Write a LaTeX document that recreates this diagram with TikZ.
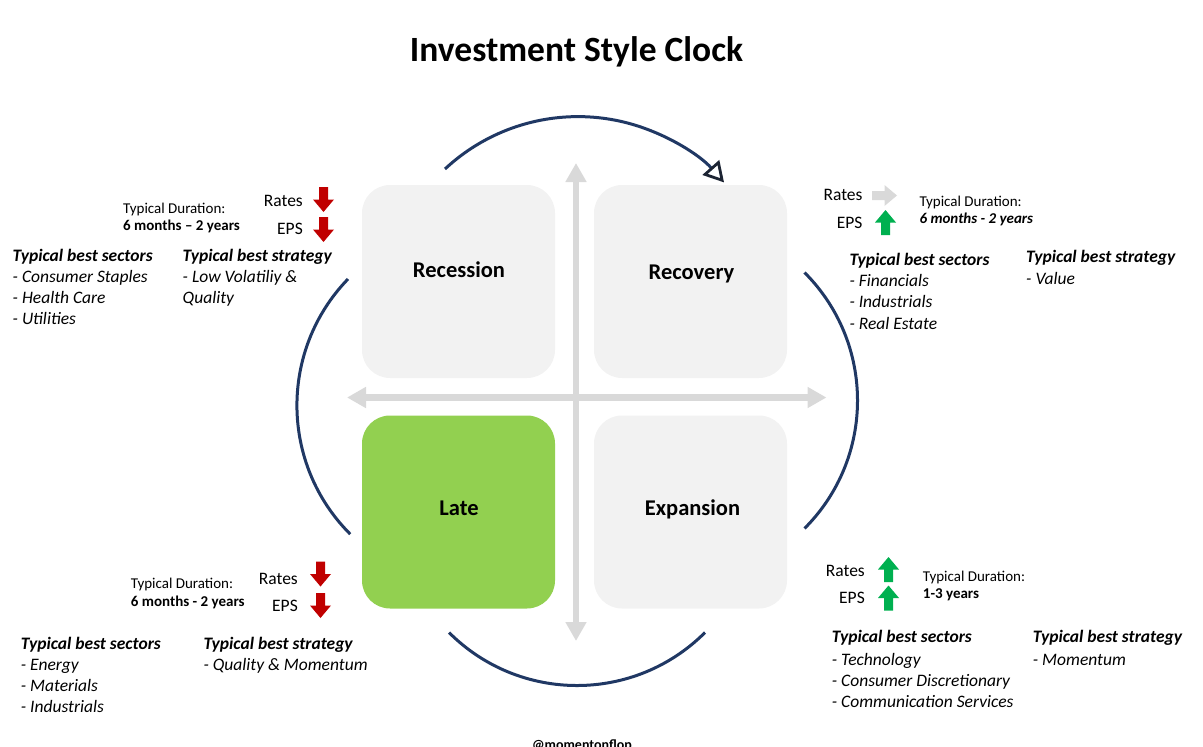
\documentclass[tikz,border=0pt]{standalone}
\usepackage{fontspec}
\setmainfont{Carlito}
\usetikzlibrary{arrows.meta}
\definecolor{navy}{HTML}{203864}
\definecolor{headdark}{HTML}{1C2433}
\definecolor{boxgray}{HTML}{F2F2F2}
\definecolor{axisgray}{HTML}{D9D9D9}
\definecolor{latebox}{HTML}{92D050}
\definecolor{arrred}{HTML}{C00000}
\definecolor{arrgreen}{HTML}{00B050}
\definecolor{arrgray}{HTML}{D9D9D9}
\tikzset{
  blockarrow/.pic={\fill (-4.5,-12.5) -- (4.5,-12.5) -- (4.5,0) -- (10.5,0) -- (0,12.5) -- (-10.5,0) -- (-4.5,0) -- cycle;},
}
\begin{document}
\begin{tikzpicture}[x=1pt,y=-1pt,
  txt/.style={anchor=base west, inner sep=0pt, font=\fontsize{17.5}{21}\selectfont\itshape},
  hd/.style={anchor=base west, inner sep=0pt, font=\fontsize{17.5}{21}\selectfont\bfseries\itshape},
  dur/.style={anchor=base west, inner sep=0pt, font=\fontsize{15}{18}\selectfont},
  durb/.style={anchor=base west, inner sep=0pt, font=\fontsize{15}{18}\selectfont\bfseries},
  lab/.style={anchor=base east, inner sep=0pt, font=\fontsize{17.5}{21}\selectfont},
  quad/.style={fill=boxgray, rounded corners=28pt, minimum width=193pt, minimum height=193pt, inner sep=0pt},
  boxlab/.style={anchor=base, inner sep=0pt, font=\fontsize{22.5}{27}\selectfont\bfseries},
  axis/.style={draw=axisgray, line width=6.5pt, {Triangle[length=19pt,width=20pt]}-{Triangle[length=19pt,width=20pt]}},
  cyc/.style={draw=navy, line width=3pt},
]
\useasboundingbox (0,0) rectangle (1203,747);

% title
\node[anchor=base, inner sep=0pt, font=\fontsize{35.5}{42}\selectfont\bfseries] (title) at (576.5,61.5) {Investment Style Clock};

% axes
\coordinate (vtop) at (576,163);
\coordinate (vbot) at (576,641);
\coordinate (hl) at (347,397.5);
\coordinate (hr) at (826.5,397.5);
\draw[axis] (vbot) -- (vtop);
\draw[axis] (hl) -- (hr);

% quadrants
\node[quad] (recession) at (458.5,281.5) {};
\node[quad] (recovery) at (690.5,281.5) {};
\node[quad, fill=latebox] (late) at (458.5,512) {};
\node[quad] (expansion) at (690.5,512) {};
\node[boxlab] (recessionlab) at (459,277.5) {Recession};
\node[boxlab] (recoverylab) at (691.5,279.5) {Recovery};
\node[boxlab] (latelab) at (459,515.5) {Late};
\node[boxlab] (expansionlab) at (692.5,515.5) {Expansion};

% cycle arcs
\draw[cyc, -{Triangle[open,length=20pt,width=22pt,line width=2.8pt,color=headdark]}] (445,169) arc[start angle=-133, end angle=-41.5, radius=195];
\draw[cyc] (348,279) arc[start angle=224, end angle=135, radius=182];
\draw[cyc] (804.5,272.5) arc[start angle=-45, end angle=45, radius=181];
\draw[cyc] (705,632.5) arc[start angle=45, end angle=135, radius=181];

% ---------- Recession (top-left)
\node[lab] (tlrates) at (303,206.7) {Rates};
\node[lab] (tleps) at (303,234.3) {EPS};
\pic[color=arrred] at (323.5,199.5) {blockarrow};
\pic[color=arrred] at (323.5,229.5) {blockarrow};
\node[dur] (tldur) at (123,213.3) {Typical Duration:};
\node[durb] (tldurv) at (123,230.5) {6 months – 2 years};
\node[hd] (tlsec) at (12.5,261) {Typical best sectors};
\node[txt] (tls1) at (12.5,282.2) {- Consumer Staples};
\node[txt] (tls2) at (12.5,303.4) {- Health Care};
\node[txt] (tls3) at (12.5,324.6) {- Utilities};
\node[hd] (tlstr) at (182.5,261) {Typical best strategy};
\node[txt] (tlst1) at (182.5,282.2) {- Low Volatiliy \&};
\node[txt] (tlst2) at (182.5,303.4) {Quality};

% ---------- Recovery (top-right)
\node[lab] (trrates) at (862.7,200.7) {Rates};
\node[lab] (treps) at (862.7,228.3) {EPS};
\pic[color=arrgray, rotate=90] at (884.5,195.5) {blockarrow};
\pic[color=arrgreen, rotate=180] at (885.5,222.5) {blockarrow};
\node[dur] (trdur) at (919.3,206.7) {Typical Duration:};
\node[durb, font=\fontsize{15}{18}\selectfont\bfseries\itshape] (trdurv) at (919.3,223.8) {6 months - 2 years};
\node[hd] (trsec) at (849.3,265) {Typical best sectors};
\node[txt] (trs1) at (849.3,286.6) {- Financials};
\node[txt] (trs2) at (849.3,307.8) {- Industrials};
\node[txt] (trs3) at (849.3,329) {- Real Estate};
\node[hd] (trstr) at (1026,262.7) {Typical best strategy};
\node[txt] (trst1) at (1026,284.3) {- Value};

% ---------- Late (bottom-left)
\node[lab] (blrates) at (298,584) {Rates};
\node[lab] (bleps) at (298,611.7) {EPS};
\pic[color=arrred] at (320.5,574) {blockarrow};
\pic[color=arrred] at (320.5,605.5) {blockarrow};
\node[dur] (bldur) at (130.7,588.3) {Typical Duration:};
\node[durb] (bldurv) at (130.7,606.7) {6 months - 2 years};
\node[hd] (blsec) at (20.7,649.5) {Typical best sectors};
\node[txt] (bls1) at (20.7,670.7) {- Energy};
\node[txt] (bls2) at (20.7,691.6) {- Materials};
\node[txt] (bls3) at (20.7,712.5) {- Industrials};
\node[hd] (blstr) at (203.3,649.5) {Typical best strategy};
\node[txt] (blst1) at (203.3,670.7) {- Quality \& Momentum};

% ---------- Expansion (bottom-right)
\node[lab] (brrates) at (865,576) {Rates};
\node[lab] (breps) at (865,603.3) {EPS};
\pic[color=arrgreen, rotate=180] at (888.5,569.5) {blockarrow};
\pic[color=arrgreen, rotate=180] at (888.5,598) {blockarrow};
\node[dur] (brdur) at (922.7,581.7) {Typical Duration:};
\node[durb] (brdurv) at (922.7,598.3) {1-3 years};
\node[hd] (brsec) at (831.7,642.7) {Typical best sectors};
\node[txt] (brs1) at (831.7,665) {- Technology};
\node[txt] (brs2) at (831.7,686.2) {- Consumer Discretionary};
\node[txt] (brs3) at (831.7,707.4) {- Communication Services};
\node[hd] (brstr) at (1032.7,642.7) {Typical best strategy};
\node[txt] (brst1) at (1032.7,665) {- Momentum};

% watermark
\node[anchor=base, inner sep=0pt, font=\fontsize{14}{17}\selectfont\bfseries] (handle) at (582,749) {@momentonflop};
\end{tikzpicture}
\end{document}
